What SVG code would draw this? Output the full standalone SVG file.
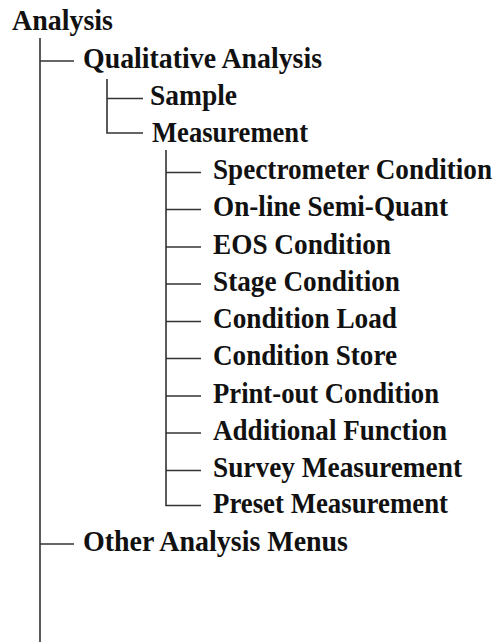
<svg xmlns="http://www.w3.org/2000/svg" width="496" height="642" viewBox="0 0 496 642">
  <style>
    .lbl { font-family: "Liberation Serif", "Times New Roman", serif; font-weight: bold; font-size: 30px; fill: #111; }
    .tree { stroke: #333; stroke-width: 1.6; fill: none; }
  </style>
  <rect width="496" height="642" fill="#fff"/>

  <!-- tree connectors -->
  <g id="connectors" class="tree">
    <!-- root trunk -->
    <path d="M40 38 V642"/>
    <path d="M40 61 H74"/>
    <path d="M40 544 H74"/>
    <!-- Qualitative Analysis branch -->
    <path d="M107 79 V133 H143"/>
    <path d="M107 98.5 H143"/>
    <!-- Measurement branch -->
    <path d="M166 150 V505.5 H201"/>
    <path d="M166 172.5 H201"/>
    <path d="M166 209.5 H201"/>
    <path d="M166 247 H201"/>
    <path d="M166 284 H201"/>
    <path d="M166 321.5 H201"/>
    <path d="M166 358.5 H201"/>
    <path d="M166 396 H201"/>
    <path d="M166 433 H201"/>
    <path d="M166 470.5 H201"/>
  </g>

  <g id="analysis"><text class="lbl" x="12" y="29.5" textLength="101" lengthAdjust="spacingAndGlyphs">Analysis</text></g>
  <g id="qualitative-analysis"><text class="lbl" x="83" y="67.5" textLength="239" lengthAdjust="spacingAndGlyphs">Qualitative Analysis</text></g>
  <g id="sample"><text class="lbl" x="150" y="105" textLength="87" lengthAdjust="spacingAndGlyphs">Sample</text></g>
  <g id="measurement"><text class="lbl" x="152" y="141.5" textLength="156" lengthAdjust="spacingAndGlyphs">Measurement</text></g>
  <g id="spectrometer-condition"><text class="lbl" x="213" y="179" textLength="279" lengthAdjust="spacingAndGlyphs">Spectrometer Condition</text></g>
  <g id="online-semi-quant"><text class="lbl" x="213" y="216" textLength="235" lengthAdjust="spacingAndGlyphs">On-line Semi-Quant</text></g>
  <g id="eos-condition"><text class="lbl" x="213" y="253.5" textLength="178" lengthAdjust="spacingAndGlyphs">EOS Condition</text></g>
  <g id="stage-condition"><text class="lbl" x="213" y="290.5" textLength="187" lengthAdjust="spacingAndGlyphs">Stage Condition</text></g>
  <g id="condition-load"><text class="lbl" x="213" y="328" textLength="184" lengthAdjust="spacingAndGlyphs">Condition Load</text></g>
  <g id="condition-store"><text class="lbl" x="213" y="365" textLength="184" lengthAdjust="spacingAndGlyphs">Condition Store</text></g>
  <g id="printout-condition"><text class="lbl" x="213" y="402.5" textLength="226" lengthAdjust="spacingAndGlyphs">Print-out Condition</text></g>
  <g id="additional-function"><text class="lbl" x="213" y="439.5" textLength="234" lengthAdjust="spacingAndGlyphs">Additional Function</text></g>
  <g id="survey-measurement"><text class="lbl" x="213" y="477" textLength="249" lengthAdjust="spacingAndGlyphs">Survey Measurement</text></g>
  <g id="preset-measurement"><text class="lbl" x="213" y="512.5" textLength="235" lengthAdjust="spacingAndGlyphs">Preset Measurement</text></g>
  <g id="other-analysis-menus"><text class="lbl" x="83" y="550.5" textLength="265" lengthAdjust="spacingAndGlyphs">Other Analysis Menus</text></g>
</svg>
